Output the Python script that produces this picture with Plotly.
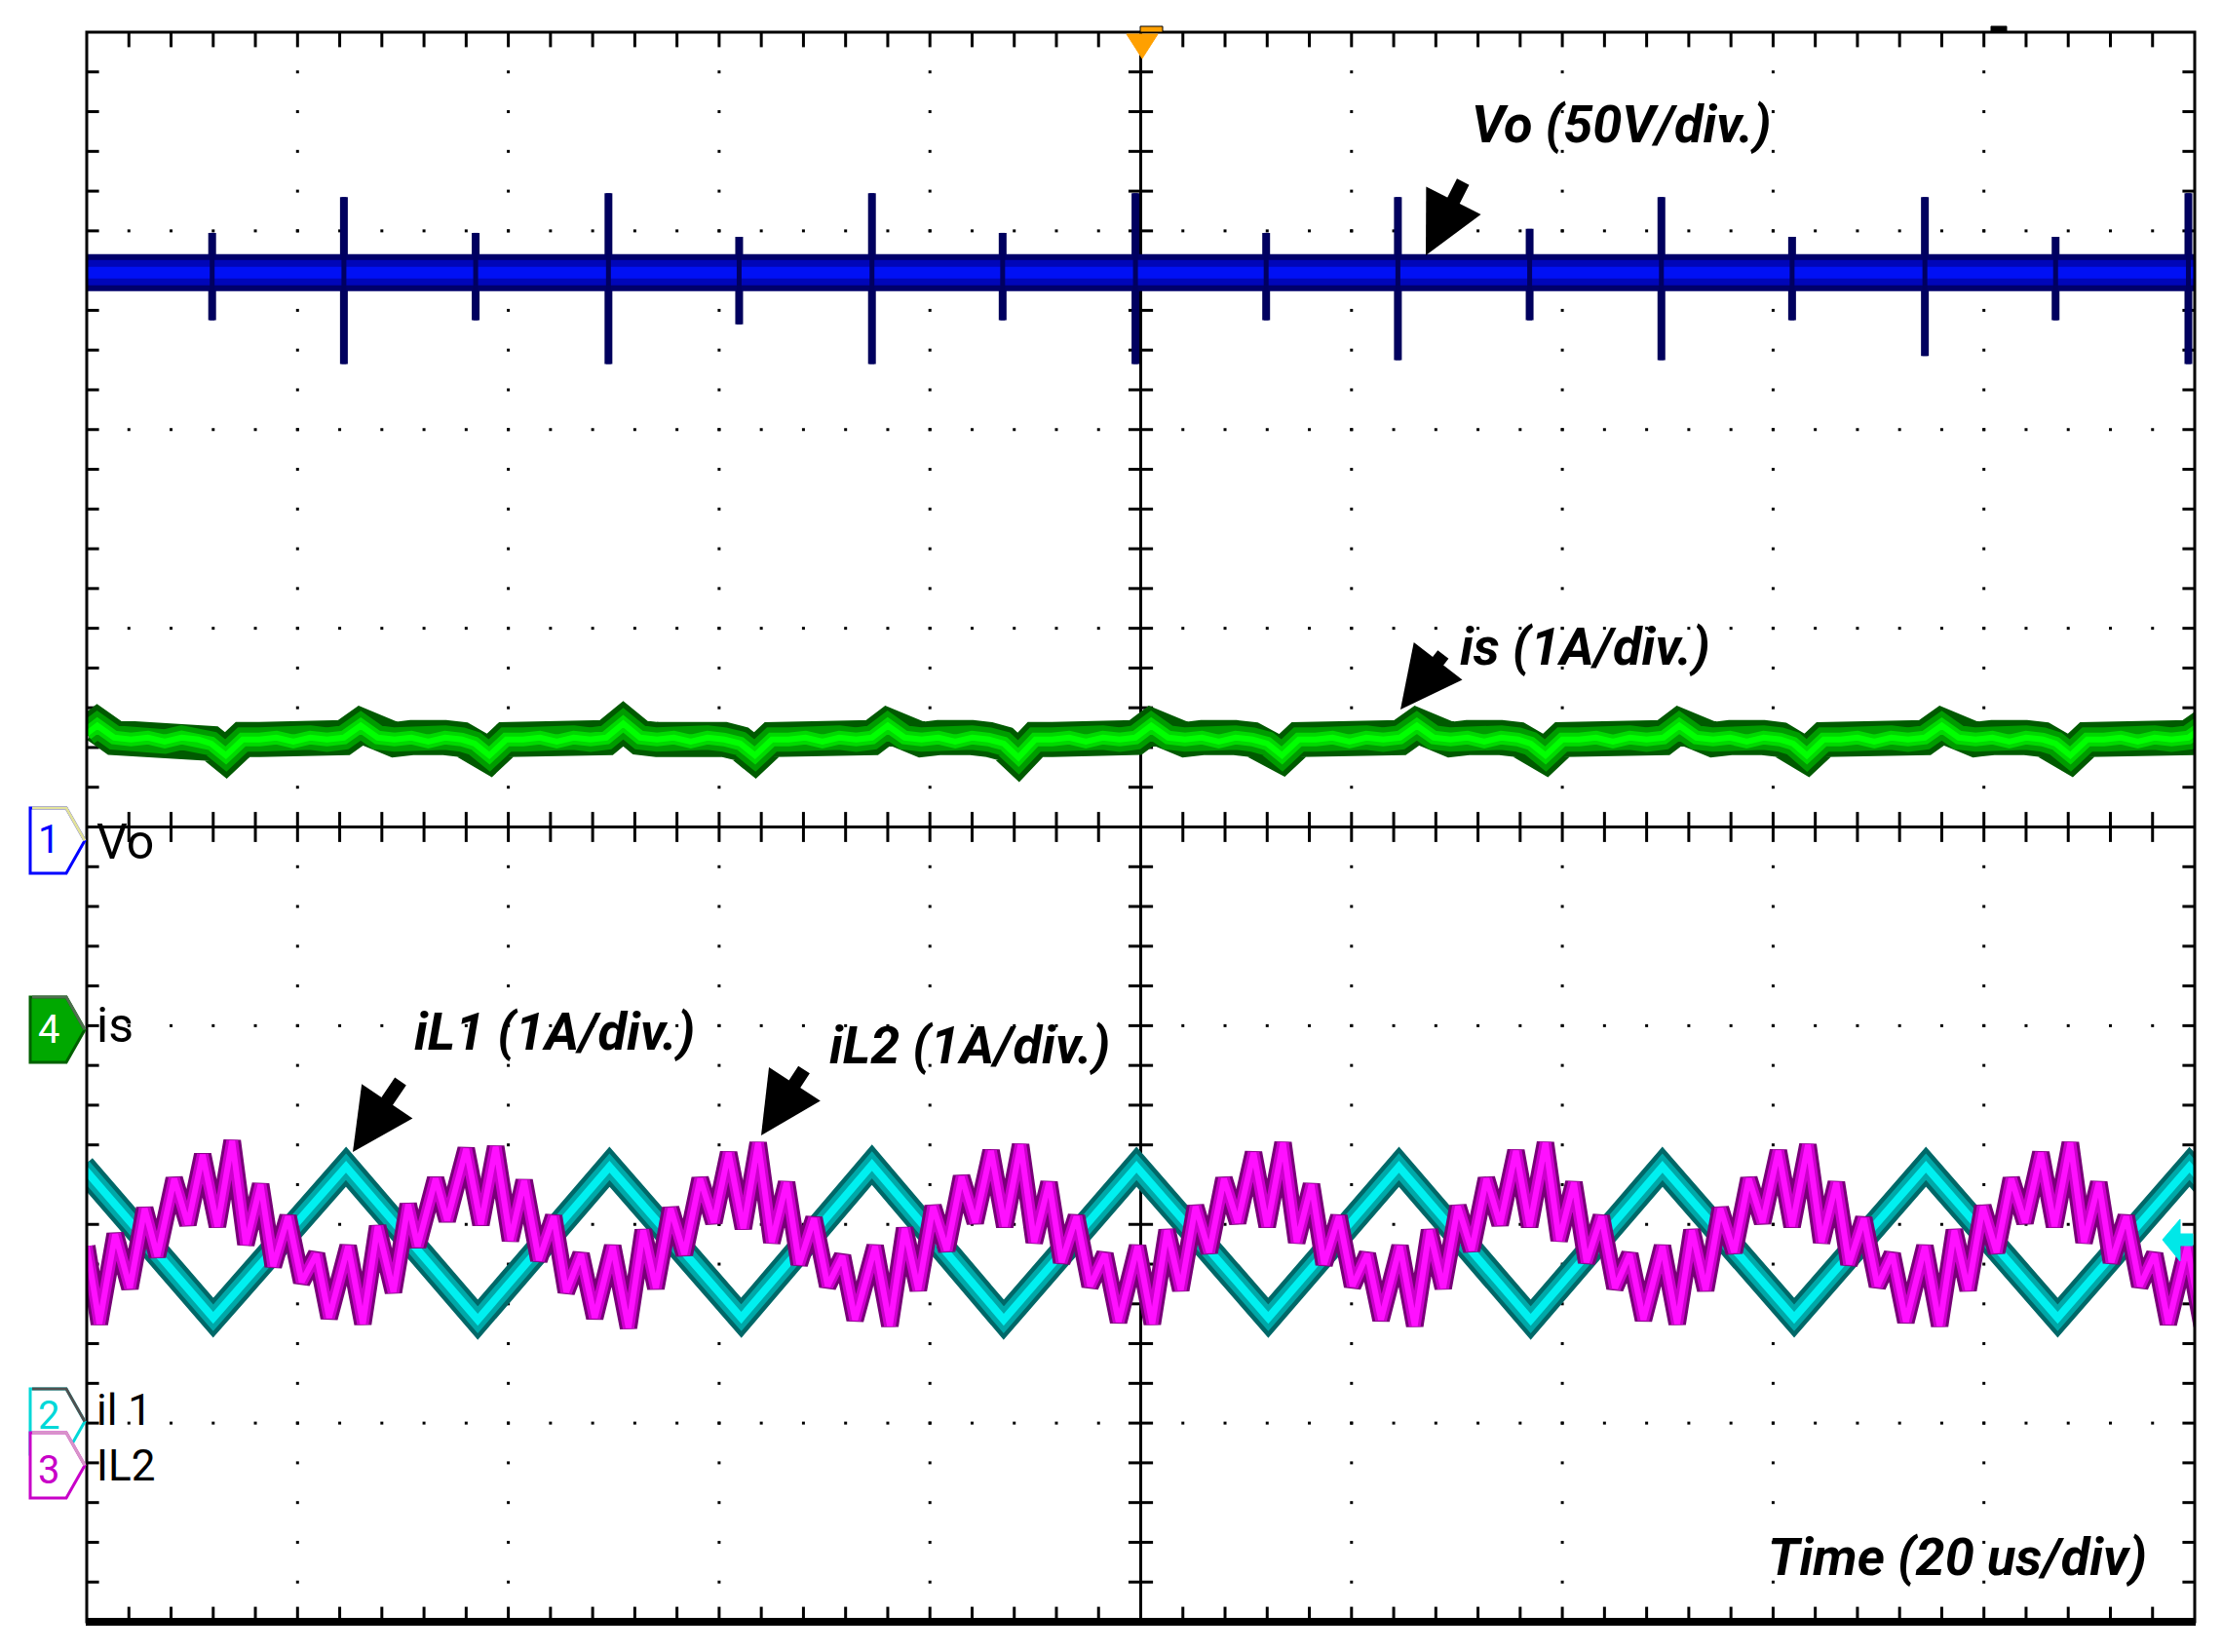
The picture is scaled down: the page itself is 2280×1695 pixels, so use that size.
import plotly.graph_objects as go

# ---------------- data ----------------
# time axis: 10 div x 20 us/div -> 0..200 us, trigger at the centre
T_RANGE = [0, 200]
Y_RANGE = [-4, 4]          # 8 vertical divisions

# channel scale (units/div) and ground-marker position (div from centre)
CH_SCALE = {"Vo": 50.0, "is": 1.0, "iL1": 1.0, "iL2": 1.0}
CH_OFFSET = {"Vo": -0.07, "is": -1.02, "iL1": -3.0, "iL2": -3.21}

# Ch1  Vo (V)
vo_time = [0, 200]
vo_value = [143, 143]
vo_spike_time = [11.9, 24.4, 36.9, 49.5, 61.9, 74.5, 86.9, 99.5,
                 111.9, 124.4, 136.9, 149.4, 161.8, 174.4, 186.8, 199.4]
vo_spike_high = [153, 162, 153, 163, 152, 163, 153, 163,
                 153, 162, 154, 162, 152, 162, 152, 163]
vo_spike_low = [131, 120, 131, 120, 130, 120, 131, 120,
                131, 121, 131, 121, 131, 122, 131, 120]

# Ch4  is (A)
is_time = [0.0, 1.0, 2.6, 4.2, 5.8, 7.4, 9.0, 10.6, 11.8, 13.2, 14.8, 16.4, 18.0, 19.6, 21.2, 22.8, 24.4,
           26.0, 27.6, 29.2, 30.8, 32.4, 34.0, 35.6, 36.8, 38.2, 39.8, 41.4, 43.0, 44.6, 46.2, 47.8, 49.3,
           50.9, 52.5, 54.1, 55.7, 57.3, 58.9, 60.5, 62.0, 63.4, 65.0, 66.6, 68.2, 69.8, 71.4, 73.0, 74.5,
           76.0, 77.6, 79.2, 80.8, 82.4, 84.0, 85.6, 87.0, 88.4, 90.0, 91.6, 93.2, 94.8, 96.4, 98.0, 99.5,
           101.0, 102.6, 104.2, 105.8, 107.4, 109.0, 110.6, 112.0, 113.4, 115.0, 116.6, 118.2, 119.8, 121.4, 123.0, 124.6,
           126.2, 127.8, 129.4, 131.0, 132.6, 134.2, 135.8, 137.0, 138.4, 140.0, 141.6, 143.2, 144.8, 146.4, 148.0, 149.6,
           151.1, 152.7, 154.3, 155.9, 157.5, 159.1, 160.7, 161.9, 163.2, 164.8, 166.4, 168.0, 169.6, 171.2, 172.8, 174.4,
           176.0, 177.6, 179.2, 180.8, 182.4, 184.0, 185.6, 186.8, 188.2, 189.8, 191.4, 193.0, 194.6, 196.2, 197.8, 199.4,
           201.0]
is_value = [1.49, 1.53, 1.47, 1.46, 1.47, 1.45, 1.47, 1.46, 1.44, 1.38, 1.46, 1.46, 1.47, 1.45, 1.47, 1.46, 1.47,
            1.53, 1.47, 1.46, 1.47, 1.45, 1.47, 1.46, 1.44, 1.38, 1.46, 1.46, 1.47, 1.45, 1.47, 1.46, 1.47,
            1.54, 1.47, 1.46, 1.47, 1.45, 1.47, 1.46, 1.44, 1.38, 1.46, 1.46, 1.47, 1.45, 1.47, 1.46, 1.47,
            1.53, 1.47, 1.46, 1.47, 1.45, 1.47, 1.46, 1.44, 1.37, 1.46, 1.46, 1.47, 1.45, 1.47, 1.46, 1.47,
            1.53, 1.47, 1.46, 1.47, 1.45, 1.47, 1.46, 1.44, 1.38, 1.46, 1.46, 1.47, 1.45, 1.47, 1.46, 1.47,
            1.53, 1.47, 1.46, 1.47, 1.45, 1.47, 1.46, 1.44, 1.38, 1.46, 1.46, 1.47, 1.45, 1.47, 1.46, 1.47,
            1.53, 1.47, 1.46, 1.47, 1.45, 1.47, 1.46, 1.44, 1.38, 1.46, 1.46, 1.47, 1.45, 1.47, 1.46, 1.47,
            1.53, 1.47, 1.46, 1.47, 1.45, 1.47, 1.46, 1.44, 1.38, 1.46, 1.46, 1.47, 1.45, 1.47, 1.46, 1.47,
            1.53]

# Ch2  iL1 (A) - triangle vertices
il1_time = [-0.4, 12.0, 24.6, 37.1, 49.6, 62.1, 74.5, 87.0, 99.6,
            112.1, 124.5, 137.0, 149.5, 162.0, 174.5, 187.0, 199.5, 205.0]
il1_value = [1.29, 0.53, 1.29, 0.52, 1.29, 0.53, 1.30, 0.52, 1.29,
             0.53, 1.29, 0.52, 1.29, 0.53, 1.29, 0.53, 1.29, 0.96]

# Ch3  iL2 (A) - triangle with superimposed ringing
il2_time = [0.0, 1.2, 2.7, 4.1, 5.5, 6.7, 8.3, 9.6, 11.0, 12.4, 13.8, 15.1, 16.5, 17.7, 19.1, 20.4, 21.8, 23.0,
            24.8, 26.2, 27.6, 29.1, 30.5, 31.4, 33.1, 34.2, 36.0, 37.4, 38.8, 40.2, 41.5, 42.9, 44.3, 45.5, 46.9, 48.2,
            49.9, 51.4, 52.8, 54.0, 55.4, 56.7, 58.2, 59.5, 60.9, 62.3, 63.7, 65.0, 66.4, 67.6, 69.0, 70.3, 71.7, 72.9,
            74.8, 76.2, 77.6, 78.9, 80.3, 81.6, 83.0, 84.3, 85.8, 87.1, 88.6, 89.9, 91.3, 92.5, 93.9, 95.2, 96.6, 97.9,
            99.7, 101.1, 102.5, 103.8, 105.2, 106.5, 107.9, 109.2, 110.7, 112.0, 113.5, 114.8, 116.2, 117.4, 118.8, 120.1, 121.5, 122.8,
            124.6, 126.0, 127.4, 128.7, 130.1, 131.4, 132.8, 134.1, 135.6, 136.9, 138.4, 139.7, 141.1, 142.3, 143.7, 145.0, 146.4, 147.7,
            149.5, 150.9, 152.3, 153.6, 155.0, 156.3, 157.7, 159.0, 160.5, 161.8, 163.3, 164.6, 166.0, 167.2, 168.6, 169.9, 171.3, 172.6,
            174.4, 175.8, 177.2, 178.5, 179.9, 181.2, 182.6, 183.9, 185.4, 186.7, 188.2, 189.5, 190.9, 192.1, 193.5, 194.8, 196.2, 197.5,
            199.3, 200.7]
il2_value = [1.10, 0.71, 1.16, 0.89, 1.29, 1.05, 1.44, 1.21, 1.56, 1.20, 1.63, 1.11, 1.41, 1.00, 1.25, 0.92, 1.06, 0.74,
             1.10, 0.71, 1.20, 0.87, 1.31, 1.10, 1.44, 1.23, 1.59, 1.21, 1.60, 1.13, 1.43, 1.03, 1.25, 0.87, 1.06, 0.74,
             1.10, 0.69, 1.18, 0.89, 1.29, 1.06, 1.44, 1.22, 1.57, 1.19, 1.62, 1.12, 1.42, 1.01, 1.24, 0.90, 1.05, 0.73,
             1.10, 0.70, 1.19, 0.88, 1.30, 1.08, 1.45, 1.22, 1.58, 1.20, 1.61, 1.12, 1.42, 1.02, 1.25, 0.90, 1.06, 0.72,
             1.10, 0.71, 1.18, 0.88, 1.30, 1.07, 1.44, 1.22, 1.57, 1.20, 1.62, 1.12, 1.41, 1.01, 1.25, 0.90, 1.06, 0.73,
             1.10, 0.70, 1.18, 0.89, 1.30, 1.08, 1.44, 1.21, 1.58, 1.20, 1.62, 1.13, 1.42, 1.02, 1.25, 0.89, 1.06, 0.73,
             1.10, 0.71, 1.18, 0.88, 1.29, 1.07, 1.44, 1.22, 1.58, 1.20, 1.61, 1.12, 1.42, 1.01, 1.24, 0.90, 1.06, 0.72,
             1.10, 0.70, 1.18, 0.88, 1.30, 1.07, 1.44, 1.22, 1.57, 1.20, 1.62, 1.12, 1.42, 1.02, 1.25, 0.90, 1.06, 0.71,
             1.10, 0.70]

# text labels
LBL_VO = "Vo (50V/div.)"
LBL_IS = "is (1A/div.)"
LBL_IL1 = "iL1 (1A/div.)"
LBL_IL2 = "iL2 (1A/div.)"
LBL_TIME = "Time (20 us/div)"
CH_LABELS = ["Vo", "is", "il 1", "IL2"]

# ---------------- layout geometry (pixels of the 2280x1695 page) ----------------
W, H = 2280, 1695
PL, PR, PT, PB = 89, 2252, 33, 1664

FONT_ANN = "Roboto, Lato, Liberation Sans, sans-serif"
FONT_CH = "Roboto, Liberation Sans, sans-serif"


def dx(xp):  # page pixel -> data x
    return T_RANGE[0] + (xp - PL) / (PR - PL) * (T_RANGE[1] - T_RANGE[0])


def dy(yp):  # page pixel -> data y (div)
    return Y_RANGE[1] - (yp - PT) / (PB - PT) * (Y_RANGE[1] - Y_RANGE[0])


def pxp(xp):  # page pixel -> paper x
    return (xp - PL) / (PR - PL)


def pyp(yp):
    return (PB - yp) / (PB - PT)


def to_div(ch, vals):
    return [CH_OFFSET[ch] + v / CH_SCALE[ch] for v in vals]


fig = go.Figure()

# ---------------- graticule ----------------
gx, gy = [], []
for i in range(1, 10):
    if i == 5:
        continue
    for k in range(1, 40):
        gx.append(i * 20)
        gy.append(-4 + 0.2 * k)
for j in [-3, -2, -1, 1, 2, 3]:
    for k in range(1, 50):
        gx.append(4 * k)
        gy.append(j)
fig.add_trace(go.Scatter(x=gx, y=gy, mode="markers", hoverinfo="skip", showlegend=False,
                         marker=dict(symbol="square", size=3, color="black", line=dict(width=0))))

# minor ticks on the centre lines and borders
tx_ns, ty_ns = [], []
for k in range(1, 50):
    for yy in (0, 4, -4):
        tx_ns.append(4 * k)
        ty_ns.append(yy)
fig.add_trace(go.Scatter(x=tx_ns, y=ty_ns, mode="markers", hoverinfo="skip", showlegend=False,
                         marker=dict(symbol="line-ns", size=22, color="black",
                                     line=dict(width=3, color="black"))))
tx_ew, ty_ew = [], []
for k in range(1, 40):
    for xx in (100, 0, 200):
        tx_ew.append(xx)
        ty_ew.append(-4 + 0.2 * k)
fig.add_trace(go.Scatter(x=tx_ew, y=ty_ew, mode="markers", hoverinfo="skip", showlegend=False,
                         marker=dict(symbol="line-ew", size=18, color="black",
                                     line=dict(width=3, color="black"))))


def band(x, y, layers):
    for col, w in layers:
        fig.add_trace(go.Scatter(x=x, y=y, mode="lines", hoverinfo="skip", showlegend=False,
                                 line=dict(color=col, width=w)))


# ---------------- Ch1 Vo ----------------
sx, sy = [], []
for t, hi, lo in zip(vo_spike_time, to_div("Vo", vo_spike_high), to_div("Vo", vo_spike_low)):
    sx += [t, t, None]
    sy += [lo, hi, None]
fig.add_trace(go.Scatter(x=sx, y=sy, mode="lines", hoverinfo="skip", showlegend=False,
                         line=dict(color="#00005A", width=8)))
band(vo_time, to_div("Vo", vo_value), [("#00006A", 38), ("#0006B8", 26), ("#0010F4", 12)])
fig.add_trace(go.Scatter(x=sx, y=sy, mode="lines", hoverinfo="skip", showlegend=False,
                         line=dict(color="#000060", width=5)))

# ---------------- Ch4 is ----------------
band(is_time, to_div("is", is_value), [("#005A00", 36), ("#009C00", 25), ("#00D800", 14), ("#00FF00", 6)])

# ---------------- Ch2 iL1 ----------------
band(il1_time, to_div("iL1", il1_value), [("#006868", 27), ("#00A8A8", 18), ("#00F0F0", 8)])

# ---------------- Ch3 iL2 ----------------
band(il2_time, to_div("iL2", il2_value), [("#780078", 18), ("#CC00CC", 12), ("#FF10FF", 6)])

# ---------------- shapes ----------------
shapes = []
# frame
shapes.append(dict(type="rect", xref="paper", yref="paper", x0=0, x1=1, y0=0, y1=1,
                   line=dict(color="black", width=3), layer="above"))
shapes.append(dict(type="line", xref="paper", yref="paper", x0=pxp(PL - 1), x1=pxp(PR + 1),
                   y0=pyp(1664), y1=pyp(1664), line=dict(color="black", width=8), layer="above"))
# centre lines
shapes.append(dict(type="line", xref="x", yref="y", x0=100, x1=100, y0=-4, y1=4,
                   line=dict(color="black", width=3), layer="below"))
shapes.append(dict(type="line", xref="x", yref="y", x0=0, x1=200, y0=0, y1=0,
                   line=dict(color="black", width=3), layer="below"))


def path(points, close=True):
    s = "M " + " L ".join(f"{pxp(a):.5f},{pyp(b):.5f}" for a, b in points)
    return s + (" Z" if close else "")


# trigger marker (orange)
shapes.append(dict(type="path", xref="paper", yref="paper",
                   path=path([(1156, 35), (1188, 35), (1172, 60)]),
                   fillcolor="#FFA000", line=dict(color="#FFA000", width=1), layer="above"))
shapes.append(dict(type="rect", xref="paper", yref="paper", x0=pxp(1170), x1=pxp(1193),
                   y0=pyp(33), y1=pyp(27), fillcolor="#FFA000", line=dict(color="black", width=1),
                   layer="above"))
shapes.append(dict(type="rect", xref="paper", yref="paper", x0=pxp(2043), x1=pxp(2059),
                   y0=pyp(33), y1=pyp(27), fillcolor="black", line=dict(color="black", width=1),
                   layer="above"))
# right-edge cyan marker
shapes.append(dict(type="path", xref="paper", yref="paper",
                   path=path([(2219, 1272), (2237, 1251), (2237, 1266), (2250, 1266),
                              (2250, 1278), (2237, 1278), (2237, 1294)]),
                   fillcolor="#00E8E8", line=dict(color="#00E8E8", width=1), layer="above"))


def badge(ytop, ybot, main_col, light_col, fill):
    ym = (ytop + ybot) / 2
    shapes.append(dict(type="path", xref="paper", yref="paper",
                       path=path([(31, ytop), (68, ytop), (87, ym), (68, ybot), (31, ybot)]),
                       fillcolor=fill, line=dict(color=main_col, width=3), layer="above"))
    shapes.append(dict(type="path", xref="paper", yref="paper",
                       path=path([(33, ytop), (68, ytop), (87, ym)], close=False),
                       line=dict(color=light_col, width=3), layer="above"))


badge(829, 896, "#0000FF", "#E2E29A", "white")
badge(1023, 1090, "#006000", "#4E6E4E", "#00A800")
badge(1425, 1492, "#00D8D8", "#505050", "white")
badge(1470, 1537, "#C800C8", "#D894C8", "white")

# ---------------- annotations ----------------
ann = []


def arrow(tail, tip):
    ann.append(dict(x=dx(tip[0]), y=dy(tip[1]), ax=dx(tail[0]), ay=dy(tail[1]),
                    xref="x", yref="y", axref="x", ayref="y", text="", showarrow=True,
                    arrowhead=2, arrowsize=0.9, arrowwidth=14, arrowcolor="black", standoff=0))


arrow((1502, 185), (1463, 262))
arrow((1482, 670), (1437, 728))
arrow((412, 1108), (362, 1182))
arrow((826, 1096), (781, 1165))


def text(s, x, y, size=54, bold=True, col="black", anchor="left", ref="data", family=FONT_ANN):
    t = f"<b><i>{s}</i></b>" if bold else s
    if ref == "data":
        ann.append(dict(x=dx(x), y=dy(y), xref="x", yref="y", text=t, showarrow=False,
                        xanchor=anchor, yanchor="middle",
                        font=dict(family=family, size=size, color=col)))
    else:
        ann.append(dict(x=pxp(x), y=pyp(y), xref="paper", yref="paper", text=t, showarrow=False,
                        xanchor=anchor, yanchor="middle",
                        font=dict(family=family, size=size, color=col)))


text(LBL_VO, 1508, 127)
text(LBL_IS, 1496, 663)
text(LBL_IL1, 423, 1058)
text(LBL_IL2, 849, 1072)
text(LBL_TIME, 1812, 1597)

# channel labels inside the graticule
for lbl, yc, sz in zip(CH_LABELS, [864, 1052, 1447, 1504], [50, 50, 44, 44]):
    text(lbl, 97, yc, size=sz, bold=False, ref="paper", family=FONT_CH)

# badge digits
for d, yc, col in [("1", 862, "#0000FF"), ("4", 1056, "white"), ("2", 1452, "#00D8D8"),
                   ("3", 1508, "#C800C8")]:
    ann.append(dict(x=pxp(50), y=pyp(yc), xref="paper", yref="paper", text=d, showarrow=False,
                    xanchor="center", yanchor="middle",
                    font=dict(family=FONT_CH, size=40, color=col)))

fig.update_layout(
    width=W, height=H, autosize=False,
    margin=dict(l=PL, r=W - PR, t=PT, b=H - PB, pad=0),
    paper_bgcolor="white", plot_bgcolor="white",
    xaxis=dict(range=T_RANGE, showgrid=False, zeroline=False, showticklabels=False,
               ticks="", showline=False, fixedrange=True),
    yaxis=dict(range=Y_RANGE, showgrid=False, zeroline=False, showticklabels=False,
               ticks="", showline=False, fixedrange=True),
    shapes=shapes, annotations=ann, showlegend=False,
)

fig.write_html("out.html", config={"displayModeBar": False, "responsive": False},
               post_script="document.body.style.margin='0px';")
